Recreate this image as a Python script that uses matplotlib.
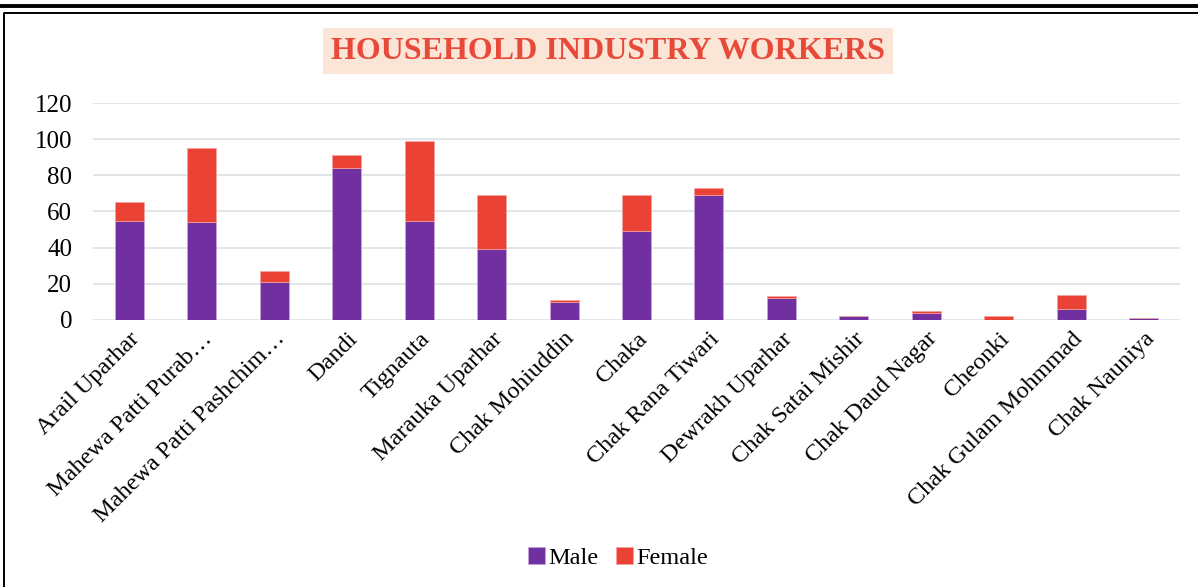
import numpy as np
import matplotlib.pyplot as plt
from matplotlib.lines import Line2D

plt.rcParams['font.family'] = ['Liberation Serif', 'DejaVu Serif']

villages = ["Arail Uparhar", "Mahewa Patti Purab…", "Mahewa Patti Pashchim…", "Dandi",
            "Tignauta", "Marauka Uparhar", "Chak Mohiuddin", "Chaka", "Chak Rana Tiwari",
            "Dewrakh Uparhar", "Chak Satai Mishir", "Chak Daud Nagar", "Cheonki",
            "Chak Gulam Mohmmad", "Chak Nauniya"]
male = [55, 54, 21, 84, 55, 39, 10, 49, 69, 12, 2, 4, 0, 6, 1]
female = [10, 41, 6, 7, 44, 30, 1, 20, 4, 1, 0, 1, 2, 8, 0]
yticks = [0, 20, 40, 60, 80, 100, 120]

purple = '#7030A0'
red = '#EA4335'

fig = plt.figure(figsize=(11.98, 5.87), dpi=100)
ax = fig.add_axes([0.0776, 0.4549, 0.9074, 0.3696])

x = np.arange(len(villages))
ax.bar(x, male, width=0.4, color=purple, edgecolor='#C9A6DD', linewidth=0.5, label='Male', zorder=3)
ax.bar(x, female, width=0.4, bottom=male, color=red, edgecolor='#F4A49C', linewidth=0.5,
       label='Female', zorder=3)

ax.set_xlim(-0.5, len(villages) - 0.5)
ax.set_ylim(0, 120)
ax.set_yticks(yticks)
ax.yaxis.grid(True, color='#DDE1E8', linewidth=1.2, zorder=0)
ax.set_axisbelow(True)
for s in ax.spines.values():
    s.set_visible(False)
ax.tick_params(axis='y', length=0, labelsize=18, colors='black', pad=15)
ax.set_xticks(x)
ax.set_xticklabels(villages, rotation=45, ha='right', rotation_mode='anchor')
ax.tick_params(axis='x', length=0, labelsize=17.5, colors='black', pad=6)

fig.text(0.5075, 0.913, "HOUSEHOLD INDUSTRY WORKERS", ha='center', va='center',
         fontsize=23, fontweight='bold', color='#E84A3A',
         bbox=dict(facecolor='#FBE5D6', edgecolor='none', pad=6))

fig.legend(loc='center', bbox_to_anchor=(0.516, 0.049), ncol=2, frameon=False,
           fontsize=17.5, handlelength=0.7, handleheight=0.7, handletextpad=0.15,
           columnspacing=0.7)

# page rule and chart frame
fig.add_artist(Line2D([0, 1], [1 - 5.5 / 587, 1 - 5.5 / 587], transform=fig.transFigure,
                      color='black', linewidth=2.8))
fig.add_artist(Line2D([3.5 / 1198, 3.5 / 1198, 1], [0, 1 - 13 / 587, 1 - 13 / 587],
                      transform=fig.transFigure, color='black', linewidth=1.4))

fig.savefig('out.png', dpi=100)
